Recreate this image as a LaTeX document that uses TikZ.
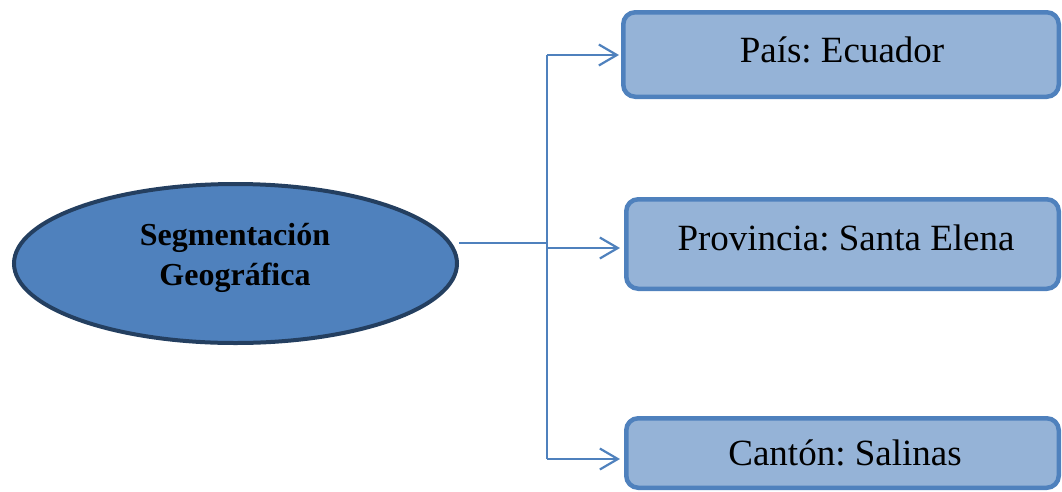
\documentclass[tikz,border=0pt]{standalone}
\usepackage{fontspec}
\setmainfont{Liberation Serif}
\frenchspacing
\usetikzlibrary{shapes.geometric,arrows.meta}
\definecolor{accent}{HTML}{4F81BD}
\definecolor{accentlight}{HTML}{95B3D7}
\definecolor{navy}{HTML}{243F60}
\tikzset{
  levelbox/.style={draw=accent, fill=accentlight, line width=4.5pt, rounded corners=12pt,
    inner sep=0pt},
  boxtext/.style={font=\fontsize{37}{44}\selectfont, text=black, anchor=base},
  rootshape/.style={ellipse, draw=navy, fill=accent, line width=4pt,
    minimum width=443pt, minimum height=159pt, inner sep=0pt},
  roottext/.style={font=\bfseries\fontsize{32}{40}\selectfont, text=black, align=center},
  link/.style={draw=accent, line width=2.2pt},
  linkarrow/.style={link, -{Straight Barb[length=18pt,width=21pt,line width=2.2pt]}},
}
\begin{document}
\begin{tikzpicture}[x=1pt,y=-1pt]
  \useasboundingbox (0,0) rectangle (1062,491);
  % root ellipse
  \node[rootshape] (seg) at (235.5,263.5) {};
  \node[roottext] (segtxt) at (235,258) {Segmentación\\Geográfica};
  % level boxes
  \node[levelbox, minimum width=435.5pt, minimum height=84.5pt] (pais) at (841,54.5) {};
  \node[levelbox, minimum width=432.5pt, minimum height=89.5pt] (prov) at (842.5,244) {};
  \node[levelbox, minimum width=432.5pt, minimum height=69.5pt] (canton) at (842.5,453) {};
  \node[boxtext] (paistxt) at (842,62) {País: Ecuador};
  \node[boxtext] (provtxt) at (846,250) {Provincia: Santa Elena};
  \node[boxtext] (cantontxt) at (845,465) {Cantón: Salinas};
  % connectors
  \coordinate (jm) at (548,243);
  \coordinate (jt) at (547,55);
  \coordinate (jmid) at (547,248);
  \coordinate (jb) at (547,459);
  \draw[link] (seg.east |- jm) -- (jm);
  \draw[link] (jt) -- (jb);
  \draw[linkarrow] (jt) -- ([xshift=-2pt]pais.west |- jt);
  \draw[linkarrow] (jmid) -- ([xshift=-4pt]prov.west |- jmid);
  \draw[linkarrow] (jb) -- ([xshift=-4pt]canton.west |- jb);
\end{tikzpicture}
\end{document}
